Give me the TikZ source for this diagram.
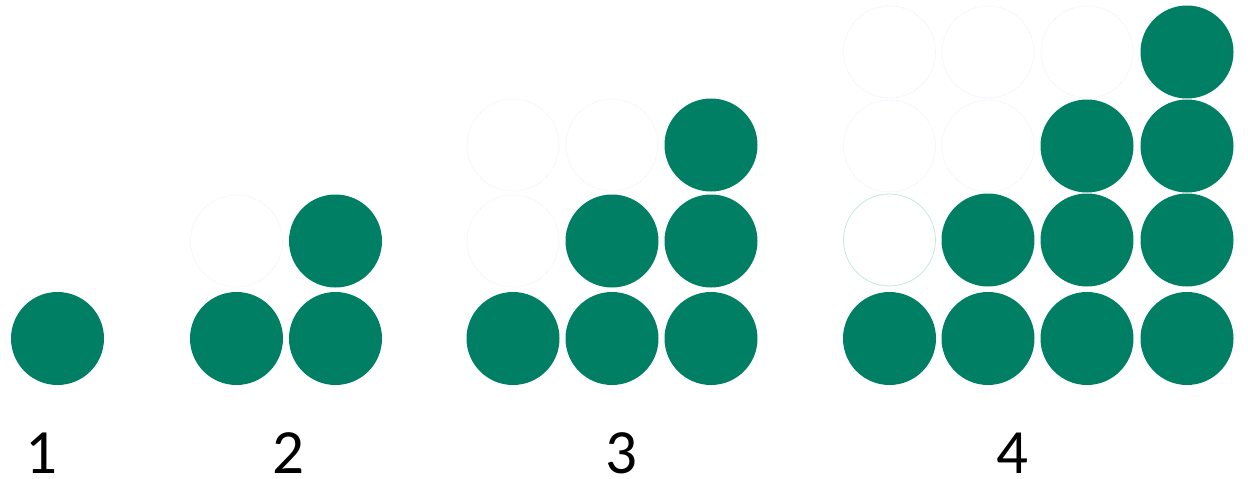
\documentclass[tikz,border=0pt]{standalone}
\usepackage{fontspec}
\setmainfont{Carlito}
\definecolor{teal}{RGB}{0,127,101}
\definecolor{faint}{RGB}{236,236,252}
\definecolor{faintgreen}{RGB}{200,230,220}
\begin{document}
\begin{tikzpicture}[x=1pt,y=-1pt,
  full/.style={circle,fill=teal,draw=none,minimum size=93pt,inner sep=0pt},
  empty/.style={circle,draw=faint,densely dotted,line width=0.8pt,minimum size=92pt,inner sep=0pt},
  emptyg/.style={circle,draw=faintgreen,line width=0.8pt,minimum size=92pt,inner sep=0pt},
  lbl/.style={font=\fontsize{63}{63}\selectfont,inner sep=0pt,anchor=center}]
\useasboundingbox (0,0) rectangle (1248,479);
% figure 1
\node[full] (a11) at (57.5,338.5) {};
% figure 2
\node[full] (b11) at (236.5,338.5) {};
\node[full] (b21) at (335.5,338.5) {};
\node[full] (b22) at (335.5,241) {};
\node[empty] (b12) at (236.5,241) {};
% figure 3
\node[full] (c11) at (513,338.5) {};
\node[full] (c21) at (612,338.5) {};
\node[full] (c31) at (711,338.5) {};
\node[full] (c22) at (612,241) {};
\node[full] (c32) at (711,241) {};
\node[full] (c33) at (711,145) {};
\node[empty] (c12) at (513,241) {};
\node[empty] (c13) at (513,145) {};
\node[empty] (c23) at (612,145) {};
% figure 4
\node[full] (d11) at (889.5,338.5) {};
\node[full] (d21) at (988,338.5) {};
\node[full] (d31) at (1087,338.5) {};
\node[full] (d41) at (1187,338.5) {};
\node[full] (d22) at (988,240) {};
\node[full] (d32) at (1087,240) {};
\node[full] (d42) at (1187,240) {};
\node[full] (d33) at (1087,146) {};
\node[full] (d43) at (1187,146) {};
\node[full] (d44) at (1187,52) {};
\node[emptyg] (d12) at (889.5,240) {};
\node[empty] (d13) at (889.5,146) {};
\node[empty] (d23) at (988,146) {};
\node[empty] (d14) at (889.5,52) {};
\node[empty] (d24) at (988,52) {};
\node[empty] (d34) at (1087,52) {};
% labels
\node[lbl] (l1) at (41,453) {1};
\node[lbl] (l2) at (288,453) {2};
\node[lbl] (l3) at (621,453) {3};
\node[lbl] (l4) at (1012,453) {4};
\end{tikzpicture}
\end{document}
